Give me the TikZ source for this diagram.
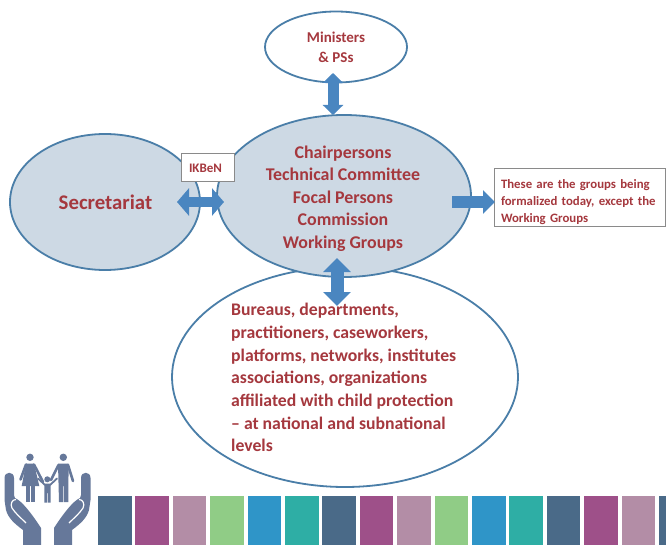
\documentclass[tikz,border=0pt]{standalone}
\usepackage{fontspec}
\setmainfont{Carlito}
\usetikzlibrary{arrows.meta,shapes.geometric}
\definecolor{edge}{HTML}{4A7EA8}
\definecolor{pale}{HTML}{CDD9E4}
\definecolor{txt}{HTML}{A5383E}
\definecolor{arrowblue}{HTML}{4A86C0}
\definecolor{icon}{HTML}{66789A}
\definecolor{boxline}{HTML}{8A8A8A}
\definecolor{barA}{HTML}{4A6A88}
\definecolor{barB}{HTML}{9E5089}
\definecolor{barC}{HTML}{B38DA6}
\definecolor{barD}{HTML}{90CC86}
\definecolor{barE}{HTML}{2F95C8}
\definecolor{barF}{HTML}{2EAEA5}
\tikzset{
 oval/.style={ellipse,draw=edge,line width=1.8pt,inner sep=0pt,minimum width=#1},
 oval/.default=100pt,
 lbl/.style={text=txt,align=center},
 notebox/.style={draw=boxline,line width=1pt,fill=white,inner sep=0pt},
 dbl/.style n args={3}{draw=arrowblue,line width=#1,{Triangle[length=#2,width=#3,fill=arrowblue]}-{Triangle[length=#2,width=#3,fill=arrowblue]}},
 sgl/.style={draw=arrowblue,line width=12pt,-{Triangle[length=12pt,width=23pt,fill=arrowblue]}},
 limb/.style={draw=icon,line width=2.6pt,line cap=round,line join=round},
}
\begin{document}
\begin{tikzpicture}[x=1pt,y=-1pt]
\useasboundingbox (0,0) rectangle (666,545);
\fill[white] (0,0) rectangle (666,545);
% ovals
\node[oval=346pt,minimum height=220pt,fill=white] (bottom) at (345,377) {};
\node[oval=142pt,minimum height=71pt,fill=white] (ministers) at (336,47) {};
\node[oval=190pt,minimum height=136pt,fill=pale] (secretariat) at (105,202) {};
\node[oval=254pt,minimum height=162pt,fill=pale] (chair) at (344,196) {};
% boxes
\node[notebox,minimum width=53pt,minimum height=28pt,text=txt,font=\bfseries\fontsize{13}{14}\selectfont,text width=37pt,align=left] (ikben) at (207.5,168) {IKBeN};
\node[notebox,minimum width=171pt,minimum height=58pt,text=txt,font=\bfseries\fontsize{12.8}{17}\selectfont,align=left,text width=157pt] (note) at (579.5,198) {\rule{0pt}{18pt}These are the groups being\\formalized today, except the\\Working Groups};
% connectors
\coordinate (mtop) at (333,73);
\coordinate (cbot) at (333,115);
\coordinate (sl) at (177,202);
\coordinate (cl) at (224,202);
\coordinate (nl) at (452,202);
\coordinate (nr) at (495,202);
\coordinate (bt) at (337,258);
\coordinate (bb) at (337,306);
\draw[dbl={11pt}{10pt}{20pt}] (mtop) -- (cbot);
\draw[dbl={10pt}{12pt}{27pt}] (sl) -- (cl);
\draw[sgl] (nl) -- (nr);
\draw[dbl={13pt}{14pt}{27pt}] (bt) -- (bb);
% texts
\node[lbl,font=\bfseries\fontsize{15}{20}\selectfont] (ministerstext) at (336,47) {Ministers\\\& PSs};
\node[lbl,font=\bfseries\fontsize{20.8}{22}\selectfont] (secretariattext) at (105.5,202) {Secretariat};
\node[lbl,font=\bfseries\fontsize{17.9}{22.6}\selectfont] (chairtext) at (343,198.5) {Chairpersons\\Technical Committee\\Focal Persons\\Commission\\Working Groups};
\node[lbl,align=left,anchor=north west,inner sep=0pt,font=\bfseries\fontsize{17.7}{22.7}\selectfont] (bottomtext) at (231,303) {Bureaus, departments,\\practitioners, caseworkers,\\platforms, networks, institutes\\associations, organizations\\affiliated with child protection\\– at national and subnational\\levels};
% colour bars
\foreach \i/\c in {0/barA,1/barB,2/barC,3/barD,4/barE,5/barF,6/barA,7/barB,8/barC,9/barD,10/barE,11/barF,12/barA,13/barB,14/barC,15/barA}{
  \fill[\c] ({98+37.4*\i},496) rectangle ++(33.6,49);
}
% icon: hands
\foreach \m/\s in {0/1,95/-1}{
\begin{scope}[xshift=\m pt,xscale=\s]
\fill[icon] (4.5,478) .. controls (4.5,471) and (14,471) .. (14,478) -- (14,495) -- (15,498) .. controls (22,501) and (32,514) .. (41,528) -- (41,545) -- (23,545) -- (23,530) .. controls (15,524) and (8,518) .. (6,510) -- (4.5,500) -- cycle;
\draw[white,line width=1.2pt] (16,499.5) .. controls (12,499.5) and (10,504) .. (12,508) .. controls (15,513) and (21,518) .. (26,523);
\end{scope}
}
% icon: mother
\fill[icon] (30,457.3) circle (3.7);
\fill[icon] (26,463.5) -- (34,463.5) -- (39.3,486) -- (21.7,486) -- cycle;
\fill[icon] (26,486) rectangle (30,502);
\fill[icon] (30.7,486) rectangle (34.7,502);
\draw[limb] (26,464.500) -- (20.5,479.5);
\draw[limb] (34,464.500) -- (43,482);
% icon: father
\fill[icon] (63.3,457.3) circle (3.7);
\fill[icon] (58,463.5) -- (68.6,463.5) -- (68.3,502) -- (64,502) -- (64,486) -- (63.3,486) -- (63.3,502) -- (59,502) -- cycle;
\draw[limb] (68,465) -- (73,481);
\draw[limb] (58.5,465) -- (51,480);
% icon: child
\fill[icon] (47.3,479.3) circle (3);
\fill[icon] (44.3,483.5) -- (50.7,483.5) -- (50.7,502.7) -- (47.8,502.7) -- (47.8,493) -- (47.2,493) -- (47.2,502.7) -- (44.3,502.7) -- cycle;
\draw[icon,line width=1.8pt,line cap=round] (45,485) -- (38,478.5);
\draw[icon,line width=1.8pt,line cap=round] (50,485) -- (57,478.5);
\end{tikzpicture}
\end{document}
